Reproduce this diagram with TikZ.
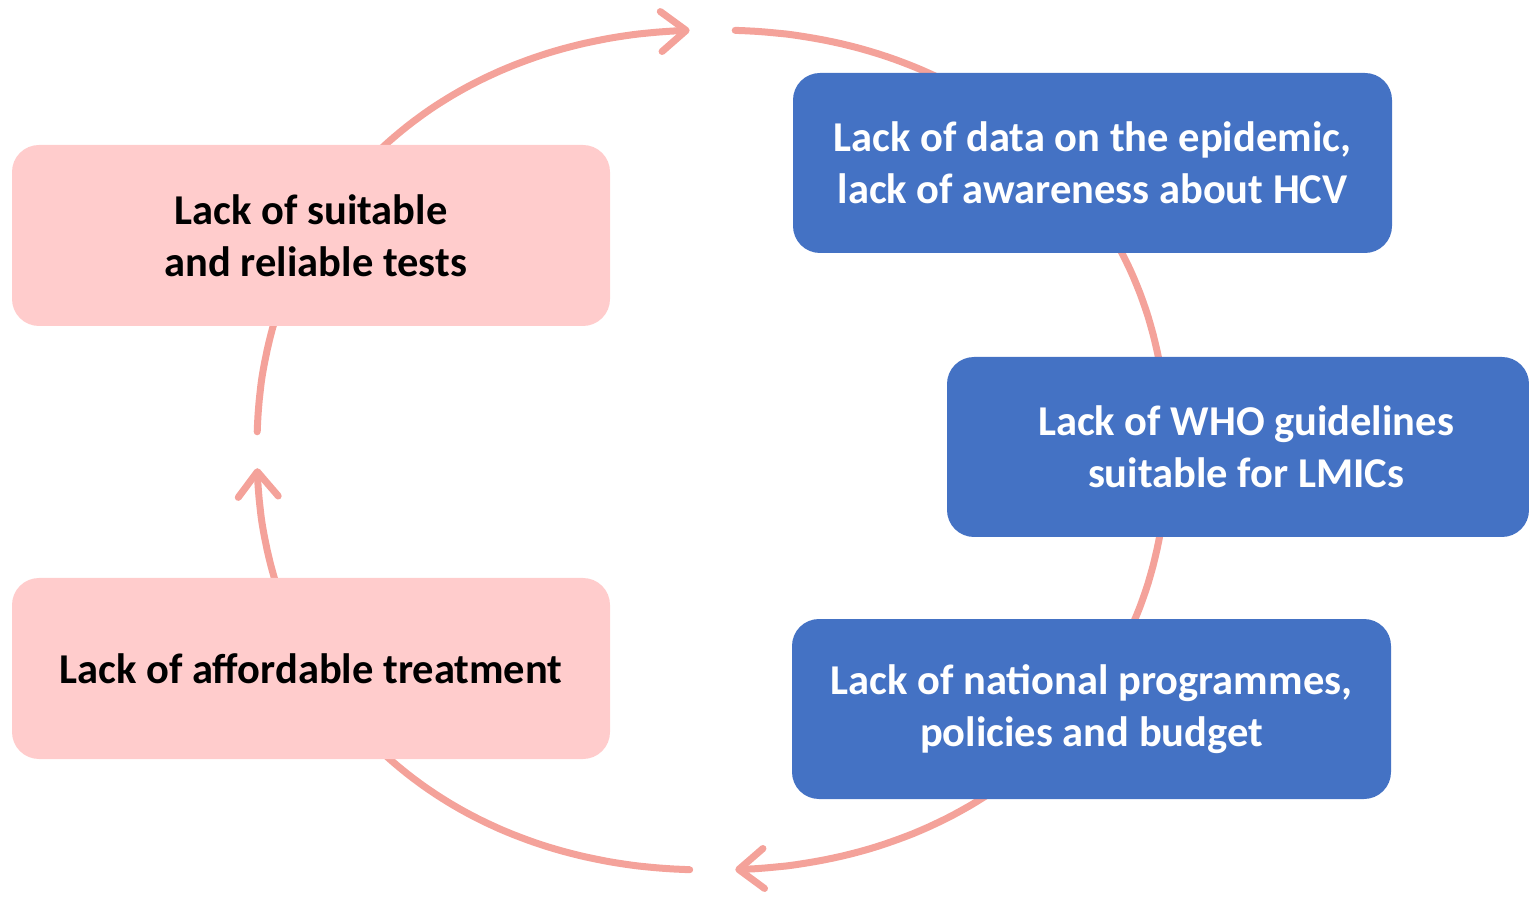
\documentclass[tikz,border=0pt]{standalone}
\usepackage{fontspec}
\setmainfont{Carlito}
\usetikzlibrary{arrows.meta,bending,calc}
\definecolor{pinkfill}{HTML}{FFCCCC}
\definecolor{bluefill}{HTML}{4472C4}
\definecolor{arccol}{HTML}{F4A29A}
\begin{document}
\begin{tikzpicture}[x=1pt,y=1pt,
  box/.style={rounded corners=27pt, minimum width=598pt, minimum height=181pt, inner sep=0pt, align=center, font=\fontsize{42.5}{52}\selectfont\bfseries},
  pinkbox/.style={box, fill=pinkfill, text=black},
  bluebox/.style={box, fill=bluefill, text=white},
  boxtext/.style={align=center, inner sep=0pt, font=\fontsize{42.5}{52}\selectfont\bfseries},
  cyc/.style={draw=arccol, line width=7pt, line cap=round, line join=round},
  tipend/.style={-{Straight Barb[length=25pt,width=40pt,round]}}]
\useasboundingbox (0,0) rectangle (1529,898);
% cycle made of a slightly squared ellipse: centre (712,448), radii 455 x 420
\draw[cyc, tipend] plot[domain=178:92.3, samples=90]
  ({712-455*pow(-cos(\x),0.939)}, {448+420*pow(sin(\x),0.939)});
\draw[cyc, tipend] plot[domain=87.6:-87.6, samples=150]
  ({712+455*sign(cos(\x))*pow(abs(cos(\x)),0.939)}, {448+420*sign(sin(\x))*pow(abs(sin(\x)),0.939)});
\draw[cyc, tipend] plot[domain=267.7:182, samples=90]
  ({712-455*pow(-cos(\x),0.939)}, {448-420*pow(-sin(\x),0.939)});
\node[pinkbox] (tests) at (311,662.5) {Lack of suitable\\~and reliable tests};
\node[pinkbox] (treat) at (311,229.5) {Lack of affordable treatment};
\node[bluebox, minimum width=599pt, minimum height=180pt] (data) at (1092.5,735) {Lack of data on the epidemic,\\lack of awareness about HCV};
\node[bluebox, minimum width=582pt, minimum height=180pt] (who) at (1238,451) {};
\node[boxtext, text=white] (whotext) at (1246,451) {Lack of WHO guidelines\\suitable for LMICs};
\node[bluebox, minimum width=599pt, minimum height=180pt] (nat) at (1091.5,189) {Lack of national programmes,\\policies and budget};
\end{tikzpicture}
\end{document}
